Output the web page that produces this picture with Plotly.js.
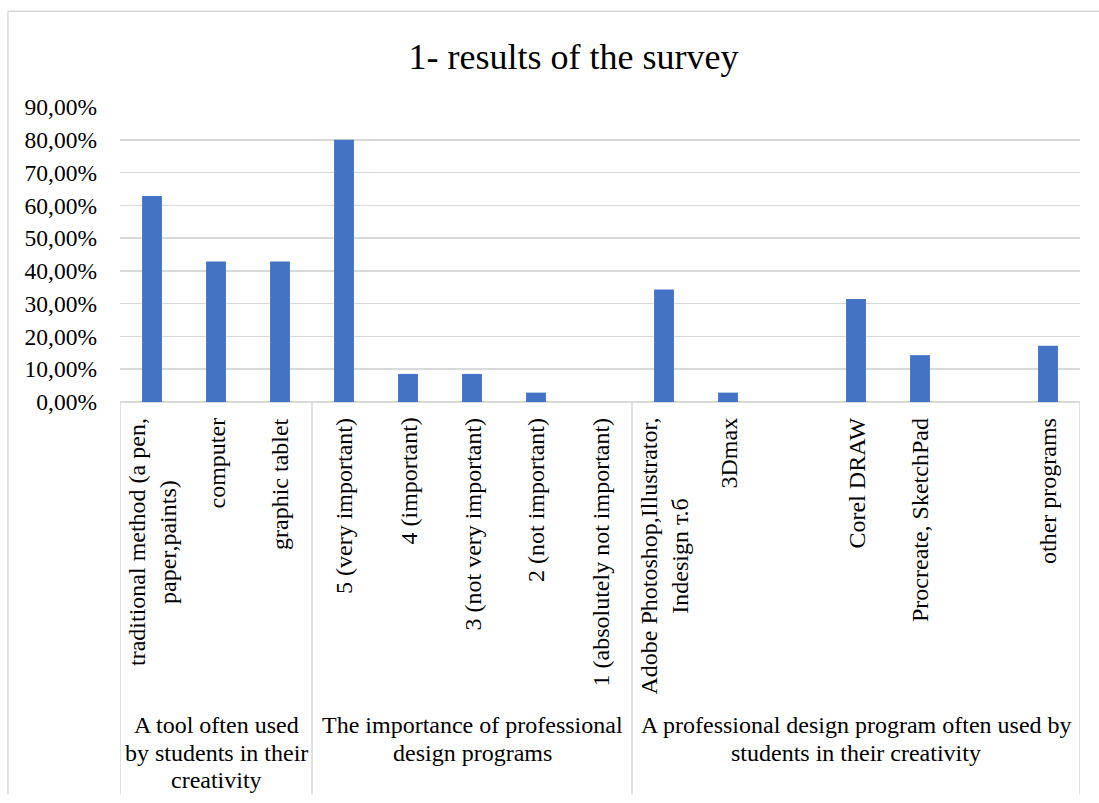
<!DOCTYPE html>
<html>
<head>
<meta charset="utf-8">
<script src="https://cdn.plot.ly/plotly-3.0.1.min.js"></script>
<style>
html,body{margin:0;padding:0;background:#fff;}
#chart{width:1099px;height:803px;}
</style>
</head>
<body>
<div id="chart"></div>
<script>
// ---- data ----
var categories = [
  "traditional method (a pen,<br>paper,paints)",
  "computer",
  "graphic tablet",
  "5 (very important)",
  "4 (important)",
  "3 (not very important)",
  "2 (not important)",
  "1 (absolutely not important)",
  "Adobe Photoshop,Illustrator,<br>Indesign т.б",
  "3Dmax",
  " ",
  "Corel DRAW",
  "Procreate, SketchPad",
  "  ",
  "other programs"
];
var values = [0.6286, 0.4286, 0.4286, 0.80, 0.0857, 0.0857, 0.0286, 0, 0.3429, 0.0286, null, 0.3143, 0.1429, null, 0.1714];
var groupLabels = [
  ["A tool often used", "by students in their", "creativity"],
  ["The importance of professional", "design programs"],
  ["A professional design program often used by", "students in their creativity"]
];
var groupSizes = [3, 5, 7];
var yTickVals = [0, 0.1, 0.2, 0.3, 0.4, 0.5, 0.6, 0.7, 0.8, 0.9];
var titleText = "1- results of the survey";

// ---- layout helpers ----
var FONT = "Liberation Serif, Times New Roman, serif";
var grid = "#d9d9d9";
var PLOT_H = 295; // px height of plot area
var BOTTOM = -(795 - 402) / PLOT_H; // where the cropped frame lines stop
var shapes = [];
var annotations = [];

// category labels (rotated, centred lines)
categories.forEach(function (c, i) {
  if (!c.trim()) return;
  annotations.push({
    xref:"x", yref:"paper", x:c, y:-14/PLOT_H, xanchor:"center", yanchor:"top",
    text:c, textangle:-90, showarrow:false, align:"center",
    font:{family:FONT, size:24, color:"#000"}
  });
});

var start = 0;
shapes.push({type:"line", xref:"x", yref:"paper", x0:-0.5, x1:-0.5, y0:0, y1:BOTTOM, line:{color:grid, width:1.5}});
for (var g = 0; g < groupSizes.length; g++) {
  var end = start + groupSizes[g];
  shapes.push({type:"line", xref:"x", yref:"paper", x0:end-0.5, x1:end-0.5, y0:0, y1:BOTTOM, line:{color:grid, width:1.5}});
  groupLabels[g].forEach(function (line, k) {
    annotations.push({
      xref:"x", yref:"paper", x:(start+end-1)/2, y:-(725 + 27.5*k - 402)/PLOT_H,
      xanchor:"center", yanchor:"middle",
      text:line, showarrow:false, align:"center",
      font:{family:FONT, size:24, color:"#000"}
    });
  });
  start = end;
}
// chart area border (cropped at right/bottom): left and top edges only
shapes.push({type:"line", xref:"paper", yref:"paper", x0:-0.1167, x1:-0.1167, y0:BOTTOM, y1:1.325, line:{color:grid, width:1.5}});
shapes.push({type:"line", xref:"paper", yref:"paper", x0:-0.1167, x1:1.2, y0:1.325, y1:1.325, line:{color:grid, width:1.5}});

var trace = {
  type:"bar",
  x:categories,
  y:values,
  marker:{color:"#4472C4", line:{width:0}},
  width:0.31,
  hoverinfo:"skip"
};

var layout = {
  width:1099, height:803,
  margin:{l:120, r:19, t:107, b:401, pad:0},
  paper_bgcolor:"#fff", plot_bgcolor:"#fff",
  separators:", ",
  showlegend:false,
  title:{text:titleText, font:{family:FONT, size:36, color:"#000"},
         xref:"paper", x:0.4724, xanchor:"center", yref:"container", y:0.93, yanchor:"middle"},
  xaxis:{
    type:"category", showticklabels:false, showgrid:false, zeroline:false,
    showline:false, ticks:"", range:[-0.5, 14.5], fixedrange:true
  },
  yaxis:{
    range:[0, 0.9], tickvals:yTickVals, tickformat:".2%",
    showgrid:true, gridcolor:grid, gridwidth:1.5,
    zeroline:true, zerolinecolor:grid, zerolinewidth:1.5,
    showline:false, ticks:"", ticklabelstandoff:22,
    tickfont:{family:FONT, size:23.5, color:"#000"}, fixedrange:true
  },
  shapes:shapes,
  annotations:annotations
};

Plotly.newPlot("chart", [trace], layout, {staticPlot:true, displayModeBar:false});
</script>
</body>
</html>
